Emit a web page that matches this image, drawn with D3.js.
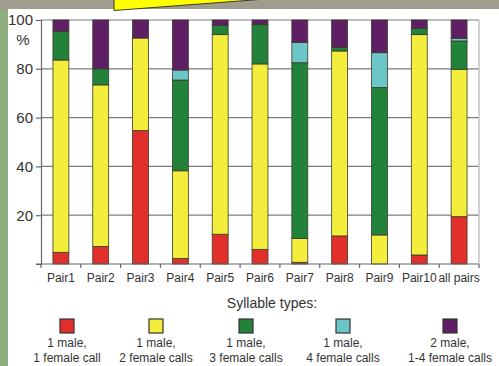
<!DOCTYPE html>
<html>
<head>
<meta charset="utf-8">
<script src="https://cdn.jsdelivr.net/npm/d3@7"></script>
<style>
  html, body { margin: 0; padding: 0; background: #8fae7e; }
  svg { display: block; font-family: "Liberation Sans", Arial, sans-serif; }
</style>
</head>
<body>
<svg id="chart" width="499" height="366"></svg>
<script>
// categories on the x axis
const pairs = ['Pair1', 'Pair2', 'Pair3', 'Pair4', 'Pair5', 'Pair6', 'Pair7', 'Pair8', 'Pair9', 'Pair10', 'all pairs']

// percentages per syllable type (bottom to top)
const oneMaleOneFemale   = [4.8, 7.2, 54.7, 2.3, 12.2, 6.0, 0.7, 11.5, 0, 3.7, 19.4]
const oneMaleTwoFemale   = [78.8, 66.2, 37.9, 35.9, 81.8, 76.0, 9.8, 75.8, 11.9, 90.3, 60.4]
const oneMaleThreeFemale = [11.8, 6.6, 0, 37.2, 3.7, 16.1, 72.0, 1.4, 60.4, 2.6, 11.6]
const oneMaleFourFemale  = [0, 0, 0, 4.1, 0, 0, 8.3, 0, 14.3, 0, 1.1]
const twoMale            = [4.6, 20.0, 7.4, 20.5, 2.3, 1.9, 9.2, 11.3, 13.4, 3.4, 7.5]

const yTicks = [20, 40, 60, 80, 100]

const seriesKeys = ['m1f1', 'm1f2', 'm1f3', 'm1f4', 'm2']
const seriesLabels = [
  ['1 male,', '1 female call'],
  ['1 male,', '2 female calls'],
  ['1 male,', '3 female calls'],
  ['1 male,', '4 female calls'],
  ['2 male,', '1-4 female calls']
]
const seriesColors = ['#e1302c', '#f3ee3b', '#23823a', '#6cc5c6', '#5e1f64']

// table for d3.stack
const rows = pairs.map((p, i) => ({
  pair: p,
  m1f1: oneMaleOneFemale[i],
  m1f2: oneMaleTwoFemale[i],
  m1f3: oneMaleThreeFemale[i],
  m1f4: oneMaleFourFemale[i],
  m2: twoMale[i]
}))

const svg = d3.select('#chart')

// background pieces (photo backdrop, white panel, yellow callout edge)
svg.append('rect').attr('x', 0).attr('y', 0).attr('width', 499).attr('height', 366).attr('fill', '#8fae7e')
svg.append('rect').attr('x', 0).attr('y', 0).attr('width', 499).attr('height', 10).attr('fill', '#a09d8f')
svg.append('rect').attr('x', 8).attr('y', 9).attr('width', 491).attr('height', 357).attr('fill', '#ffffff')
svg.append('polygon')
  .attr('points', '114,-2 114,10.5 266,-1')
  .attr('fill', '#ffff00')
  .attr('stroke', '#3a3a30')
  .attr('stroke-width', 1)

const plotLeft = 41, plotRight = 479, plotTop = 20, plotBottom = 264

const x = d3.scaleBand()
  .domain(pairs)
  .range([plotLeft, plotRight])
  .paddingInner(0.6)
  .paddingOuter(0.3)

const y = d3.scaleLinear().domain([0, 100]).range([plotBottom, plotTop])

// grid lines
svg.append('g')
  .selectAll('line')
  .data(yTicks)
  .join('line')
  .attr('x1', plotLeft).attr('x2', plotRight)
  .attr('y1', d => y(d)).attr('y2', d => y(d))
  .attr('stroke', '#7d7d7d')
  .attr('stroke-width', 1.2)

// right frame line
svg.append('line')
  .attr('x1', plotRight).attr('x2', plotRight)
  .attr('y1', y(100)).attr('y2', y(0))
  .attr('stroke', '#b5b5b5')
  .attr('stroke-width', 1.2)

// stacked bars
const stacked = d3.stack().keys(seriesKeys)(rows)

svg.append('g')
  .selectAll('g')
  .data(stacked)
  .join('g')
  .attr('fill', (d, i) => seriesColors[i])
  .selectAll('rect')
  .data(d => d.filter(s => s[1] - s[0] > 0))
  .join('rect')
  .attr('x', d => x(d.data.pair))
  .attr('width', x.bandwidth())
  .attr('y', d => y(d[1]))
  .attr('height', d => y(d[0]) - y(d[1]))
  .attr('stroke', '#3a3a2a')
  .attr('stroke-width', 0.8)

// y axis
const yAxis = svg.append('g')
  .attr('transform', `translate(${plotLeft},0)`)
  .call(d3.axisLeft(y).tickValues(yTicks).tickSize(5).tickPadding(3))
yAxis.select('.domain').attr('stroke', '#666').attr('stroke-width', 1.2)
yAxis.selectAll('.tick line').attr('stroke', '#666').attr('stroke-width', 1.2)
yAxis.selectAll('.tick text')
  .attr('font-size', 15)
  .attr('fill', '#333')
  .attr('font-family', '"Liberation Sans", Arial, sans-serif')

svg.append('text')
  .attr('x', 23).attr('y', 45)
  .attr('text-anchor', 'middle')
  .attr('font-size', 15)
  .attr('fill', '#333')
  .text('%')

// x axis with ticks on band boundaries
const xAxis = svg.append('g')
  .attr('transform', `translate(0,${plotBottom})`)
xAxis.append('line')
  .attr('x1', plotLeft - 5).attr('x2', plotRight)
  .attr('stroke', '#666').attr('stroke-width', 1.2)
const step = x.step()
xAxis.selectAll('line.tk')
  .data(d3.range(pairs.length + 1))
  .join('line')
  .attr('class', 'tk')
  .attr('x1', i => plotLeft + i * step).attr('x2', i => plotLeft + i * step)
  .attr('y1', 0).attr('y2', 4)
  .attr('stroke', '#666').attr('stroke-width', 1.2)
xAxis.selectAll('text')
  .data(pairs)
  .join('text')
  .attr('x', d => x(d) + x.bandwidth() / 2)
  .attr('y', 18)
  .attr('text-anchor', 'middle')
  .attr('font-size', 12)
  .attr('fill', '#333')
  .text(d => d)

// legend
svg.append('text')
  .attr('x', 272).attr('y', 308)
  .attr('text-anchor', 'middle')
  .attr('font-size', 14)
  .attr('fill', '#333')
  .text('Syllable types:')

const legendX = [67, 156, 246, 343, 450]
const legend = svg.append('g')
  .selectAll('g')
  .data(seriesKeys)
  .join('g')
  .attr('transform', (d, i) => `translate(${legendX[i]},0)`)

legend.append('rect')
  .attr('x', -7).attr('y', 319)
  .attr('width', 14).attr('height', 14)
  .attr('fill', (d, i) => seriesColors[i])
  .attr('stroke', '#333')
  .attr('stroke-width', 1.2)

legend.append('text')
  .attr('y', 347)
  .attr('text-anchor', 'middle')
  .attr('font-size', 12)
  .attr('fill', '#333')
  .text((d, i) => seriesLabels[i][0])

legend.append('text')
  .attr('y', 362)
  .attr('text-anchor', 'middle')
  .attr('font-size', 12)
  .attr('fill', '#333')
  .text((d, i) => seriesLabels[i][1])
</script>
</body>
</html>
